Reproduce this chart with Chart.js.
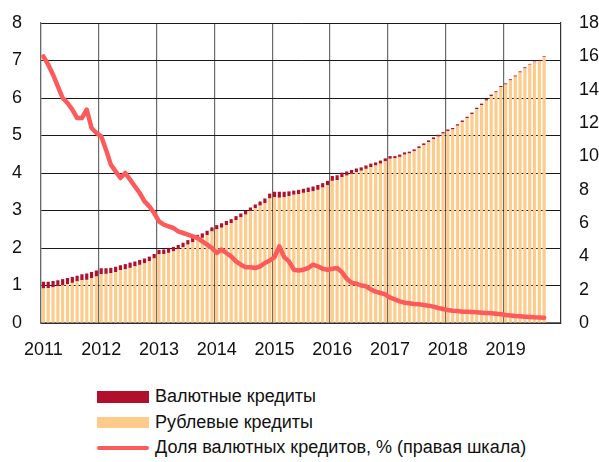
<!DOCTYPE html>
<html>
<head>
<meta charset="utf-8">
<script src="https://cdn.jsdelivr.net/npm/chart.js@4/dist/chart.umd.min.js"></script>
<style>
  html, body { margin: 0; padding: 0; background: #fff; }
  #wrap { position: relative; width: 599px; height: 462px; }
  #box { position: absolute; left: 0; top: 0; width: 599px; height: 372px; }
  #legend { position: absolute; left: 97px; top: 384px; font-family: 'Liberation Sans', Arial, sans-serif; font-size: 18px; color: #111; }
  .item { height: 25.5px; display: flex; align-items: center; }
  .sw { display: inline-block; width: 52px; margin-right: 6px; }
</style>
</head>
<body>
<div id="wrap">
  <div id="box"><canvas id="chart"></canvas></div>
  <div id="legend"></div>
</div>
<script>
// Monthly, Jan 2011 .. Sep 2019 (trillion roubles / % on right axis)
const YEARS = ['2011', '2012', '2013', '2014', '2015', '2016', '2017', '2018', '2019'];

const rubleCredits = [
    0.92, 0.93, 0.95, 0.98, 1.01, 1.04, 1.07, 1.11, 1.14, 1.15, 1.20, 1.24,
    1.30, 1.31, 1.33, 1.36, 1.41, 1.43, 1.47, 1.51, 1.55, 1.59, 1.65, 1.72,
    1.83, 1.84, 1.87, 1.91, 1.97, 2.02, 2.09, 2.16, 2.23, 2.27, 2.34, 2.44,
    2.50, 2.54, 2.61, 2.66, 2.74, 2.82, 2.89, 2.98, 3.06, 3.13, 3.20, 3.32,
    3.36, 3.34, 3.36, 3.38, 3.42, 3.44, 3.47, 3.49, 3.51, 3.55, 3.61, 3.67,
    3.79, 3.81, 3.89, 3.93, 3.98, 4.02, 4.06, 4.11, 4.16, 4.20, 4.25, 4.31,
    4.38, 4.39, 4.43, 4.49, 4.52, 4.58, 4.66, 4.74, 4.82, 4.90, 4.97, 5.05,
    5.12, 5.16, 5.26, 5.36, 5.46, 5.57, 5.70, 5.81, 5.93, 6.05, 6.15, 6.29,
    6.36, 6.47, 6.57, 6.68, 6.79, 6.89, 6.95, 6.98, 7.09
];

const currencyCredits = [
    0.18, 0.17, 0.17, 0.16, 0.16, 0.16, 0.16, 0.15, 0.16, 0.17, 0.16, 0.16,
    0.16, 0.15, 0.14, 0.14, 0.13, 0.14, 0.14, 0.13, 0.13, 0.13, 0.12, 0.12,
    0.12, 0.12, 0.12, 0.12, 0.11, 0.12, 0.12, 0.12, 0.12, 0.12, 0.12, 0.11,
    0.11, 0.12, 0.11, 0.11, 0.11, 0.10, 0.10, 0.10, 0.10, 0.11, 0.12, 0.13,
    0.14, 0.16, 0.14, 0.13, 0.11, 0.11, 0.11, 0.12, 0.13, 0.13, 0.12, 0.12,
    0.13, 0.13, 0.12, 0.11, 0.10, 0.10, 0.09, 0.09, 0.09, 0.08, 0.08, 0.08,
    0.07, 0.06, 0.06, 0.06, 0.05, 0.05, 0.05, 0.05, 0.05, 0.05, 0.05, 0.04,
    0.04, 0.04, 0.04, 0.04, 0.04, 0.04, 0.04, 0.04, 0.04, 0.04, 0.03, 0.03,
    0.03, 0.03, 0.03, 0.03, 0.03, 0.02, 0.02, 0.02, 0.02
];

const currencyShare = [
    16.0, 15.5, 14.9, 14.2, 13.5, 13.2, 12.8, 12.3, 12.3, 12.8, 11.7, 11.4,
    11.2, 10.4, 9.5, 9.1, 8.7, 9.0, 8.6, 8.2, 7.8, 7.3, 7.0, 6.6,
    6.1, 5.9, 5.8, 5.7, 5.5, 5.4, 5.3, 5.2, 5.1, 4.9, 4.7, 4.5,
    4.2, 4.4, 4.2, 4.0, 3.7, 3.5, 3.35, 3.35, 3.3, 3.4, 3.6, 3.75,
    3.95, 4.6, 3.95, 3.7, 3.2, 3.15, 3.2, 3.3, 3.5, 3.4, 3.25, 3.2,
    3.25, 3.3, 3.05, 2.65, 2.42, 2.36, 2.25, 2.2, 2.02, 1.88, 1.8, 1.72,
    1.52, 1.42, 1.3, 1.22, 1.18, 1.14, 1.12, 1.08, 1.04, 0.98, 0.9, 0.84,
    0.78, 0.74, 0.72, 0.68, 0.68, 0.66, 0.64, 0.62, 0.6, 0.58, 0.55, 0.52,
    0.48, 0.45, 0.42, 0.4, 0.38, 0.36, 0.34, 0.33, 0.32
];

const SERIES_NAMES = ['Валютные кредиты', 'Рублевые кредиты', 'Доля валютных кредитов, % (правая шкала)'];

const C_CUR  = '#b20f2c';
const C_RUB  = '#ffcb8a';
const C_LINE = '#fd5b5b';

const months = [];
YEARS.forEach(y => { for (let m = 1; m <= 12; m++) months.push(y + '-' + (m < 10 ? '0' : '') + m); });

const FAMILY = "'Liberation Sans Narrow', 'Liberation Sans', Arial, sans-serif";
const xFont = { family: FAMILY, size: 18 };
// small lineHeight keeps the y-label overhang from pushing the plot area down
const yFont = { family: FAMILY, size: 18, lineHeight: 0.4 };

new Chart(document.getElementById('chart'), {
    data: {
        labels: months,
        datasets: [
            { type: 'line', label: SERIES_NAMES[2], data: currencyShare, yAxisID: 'y1', order: 0,
              borderColor: C_LINE, borderWidth: 4.5, pointRadius: 0, tension: 0, fill: false,
              borderJoinStyle: 'round', borderCapStyle: 'round' },
            { type: 'bar', label: SERIES_NAMES[1], data: rubleCredits, yAxisID: 'y', order: 1,
              backgroundColor: C_RUB, categoryPercentage: 0.66, barPercentage: 1 },
            { type: 'bar', label: SERIES_NAMES[0], data: currencyCredits, yAxisID: 'y', order: 1,
              backgroundColor: C_CUR, categoryPercentage: 0.66, barPercentage: 1 },
        ],
    },
    options: {
        responsive: true,
        maintainAspectRatio: false,
        animation: false,
        layout: { padding: { top: 23, left: 0, right: 0, bottom: 0 } },
        plugins: { legend: { display: false }, tooltip: { enabled: false } },
        scales: {
            x: {
                stacked: true,
                offset: true,
                afterFit: s => { s.height = 49; },
                grid: {
                    offset: true,
                    drawTicks: false,
                    color: ctx => (ctx.index % 12 === 0 ? '#6a6a6a' : 'rgba(0,0,0,0)'),
                    lineWidth: 1.2,
                },
                border: { display: true, color: '#6a6a6a', width: 1.2 },
                ticks: {
                    autoSkip: false, maxRotation: 0, minRotation: 0, padding: 16,
                    color: '#111', font: xFont,
                    callback: (v, i) => (i % 12 === 0 ? months[i].slice(0, 4) : ''),
                },
            },
            y: {
                stacked: true,
                position: 'left',
                min: 0, max: 8,
                afterFit: s => { s.width = 41; },
                grid: { color: '#1a1a1a', lineWidth: 1, drawTicks: false },
                border: { display: true, color: '#6a6a6a', width: 1.2 },
                ticks: { stepSize: 1, padding: 19, color: '#111', font: yFont },
            },
            y1: {
                position: 'right',
                min: 0, max: 18,
                afterFit: s => { s.width = 38; },
                grid: { display: false, drawTicks: false },
                border: { display: true, color: '#333', width: 1.2 },
                ticks: { stepSize: 2, padding: 18, color: '#111', font: yFont },
            },
        },
    },
});

// legend: one row per series
const legend = document.getElementById('legend');
[
    { name: SERIES_NAMES[0], css: 'height:12px;background:' + C_CUR },
    { name: SERIES_NAMES[1], css: 'height:11px;background:' + C_RUB },
    { name: SERIES_NAMES[2], css: 'height:4px;border-radius:2px;background:' + C_LINE },
].forEach(it => {
    const row = document.createElement('div');
    row.className = 'item';
    row.innerHTML = '<span class="sw" style="' + it.css + '"></span><span>' + it.name + '</span>';
    legend.appendChild(row);
});
</script>
</body>
</html>
